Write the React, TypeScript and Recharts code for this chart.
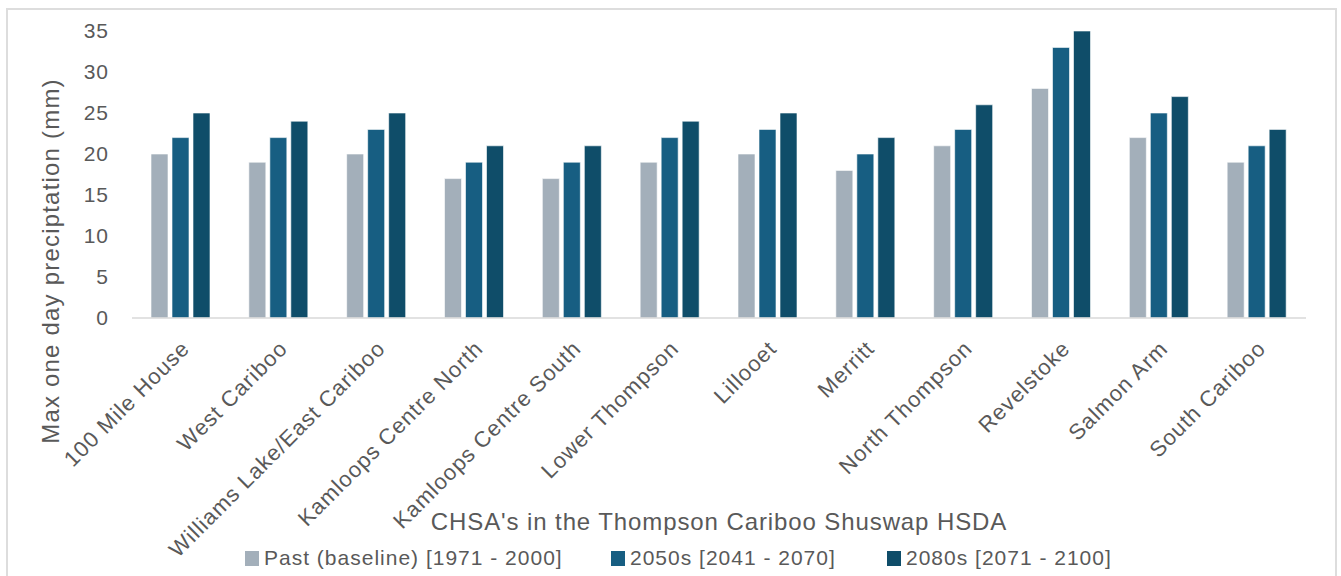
import React from 'react';
import { BarChart, Bar, XAxis, YAxis, Legend, Label } from 'recharts';

// Community health service areas (x axis)
const categories = [
  '100 Mile House',
  'West Cariboo',
  'Williams Lake/East Cariboo',
  'Kamloops Centre North',
  'Kamloops Centre South',
  'Lower Thompson',
  'Lillooet',
  'Merritt',
  'North Thompson',
  'Revelstoke',
  'Salmon Arm',
  'South Cariboo',
];

// Max one day precipitation (mm) per period
const pastBaseline = [20, 19, 20, 17, 17, 19, 20, 18, 21, 28, 22, 19];
const mid2050s = [22, 22, 23, 19, 19, 22, 23, 20, 23, 33, 25, 21];
const late2080s = [25, 24, 25, 21, 21, 24, 25, 22, 26, 35, 27, 23];

const yTicks = [0, 5, 10, 15, 20, 25, 30, 35];

const seriesNames = [
  'Past (baseline) [1971 - 2000]',
  '2050s [2041 - 2070]',
  '2080s [2071 - 2100]',
];
const seriesColors = ['#A3AFBA', '#175E82', '#0F4D69'];
const seriesKeys = ['past', 'mid', 'late'];

const xTitle = "CHSA's in the Thompson Cariboo Shuswap HSDA";
const yTitle = 'Max one day preciptation (mm)';

const data = categories.map((name, i) => ({
  name,
  past: pastBaseline[i],
  mid: mid2050s[i],
  late: late2080s[i],
}));

const FONT = '"Liberation Sans", Arial, sans-serif';
const TEXT = '#595959';

const AngledTick = (props: any) => {
  const { x, y, payload } = props;
  return (
    <g transform={`translate(${x + 10},${y + 24})`}>
      <text
        x={0}
        y={0}
        textAnchor="end"
        transform="rotate(-45)"
        fill={TEXT}
        fontSize={22}
        fontFamily={FONT}
        letterSpacing={1}
      >
        {payload.value}
      </text>
    </g>
  );
};

const XTitle = (props: any) => {
  const vb = props.viewBox || { x: 0, y: 0, width: 0, height: 0 };
  return (
    <text
      x={vb.x + vb.width / 2}
      y={vb.y + 212}
      textAnchor="middle"
      fill={TEXT}
      fontSize={24}
      fontFamily={FONT}
      letterSpacing={0.9}
    >
      {xTitle}
    </text>
  );
};

const YTitle = (props: any) => {
  const vb = props.viewBox || { x: 0, y: 0, width: 0, height: 0 };
  const cx = vb.x + 42;
  const cy = vb.y + 230;
  return (
    <text
      x={cx}
      y={cy}
      textAnchor="middle"
      dominantBaseline="central"
      transform={`rotate(-90 ${cx} ${cy})`}
      fill={TEXT}
      fontSize={24}
      fontFamily={FONT}
      letterSpacing={1.2}
    >
      {yTitle}
    </text>
  );
};

const legendLefts = [237, 603, 879];

const LegendContent = () => (
  <div style={{ position: 'relative', height: 30, width: 1327 }}>
    {seriesNames.map((n, i) => (
      <div
        key={n}
        style={{
          position: 'absolute',
          left: legendLefts[i],
          top: 0,
          height: 30,
          display: 'flex',
          alignItems: 'center',
          fontFamily: FONT,
          fontSize: 21,
          letterSpacing: 1,
          color: TEXT,
          whiteSpace: 'nowrap',
        }}
      >
        <span
          style={{
            display: 'inline-block',
            width: 14,
            height: 15,
            background: seriesColors[i],
            marginRight: 5,
          }}
        />
        {n}
      </div>
    ))}
  </div>
);

export default function App() {
  return (
    <div
      style={{
        position: 'absolute',
        left: 6,
        top: 8,
        width: 1327,
        height: 580,
        borderTop: '2px solid #DDDDDD',
        borderLeft: '2px solid #DDDDDD',
        borderRight: '2px solid #DDDDDD',
        background: '#fff',
        boxSizing: 'content-box',
      }}
    >
      <BarChart
        width={1327}
        height={567}
        data={data}
        margin={{ top: 21, right: 29, left: 0, bottom: 4 }}
        barSize={17}
        barGap={4}
      >
        <XAxis
          dataKey="name"
          interval={0}
          height={225}
          tickLine={false}
          axisLine={{ stroke: '#D9D9D9', strokeWidth: 1.5 }}
          tick={<AngledTick />}
        >
          <Label content={<XTitle />} />
        </XAxis>
        <YAxis
          width={124}
          domain={[0, 35]}
          ticks={yTicks}
          interval={0}
          axisLine={false}
          tickLine={false}
          tickMargin={17}
          tick={{ fill: TEXT, fontSize: 21, fontFamily: FONT, letterSpacing: 1 }}
        >
          <Label content={<YTitle />} />
        </YAxis>
        <Legend verticalAlign="bottom" height={30} content={<LegendContent />} />
        {seriesKeys.map((k, i) => (
          <Bar
            key={k}
            dataKey={k}
            name={seriesNames[i]}
            fill={seriesColors[i]}
            stroke="#ffffff"
            strokeWidth={0.6}
            isAnimationActive={false}
          />
        ))}
      </BarChart>
    </div>
  );
}
